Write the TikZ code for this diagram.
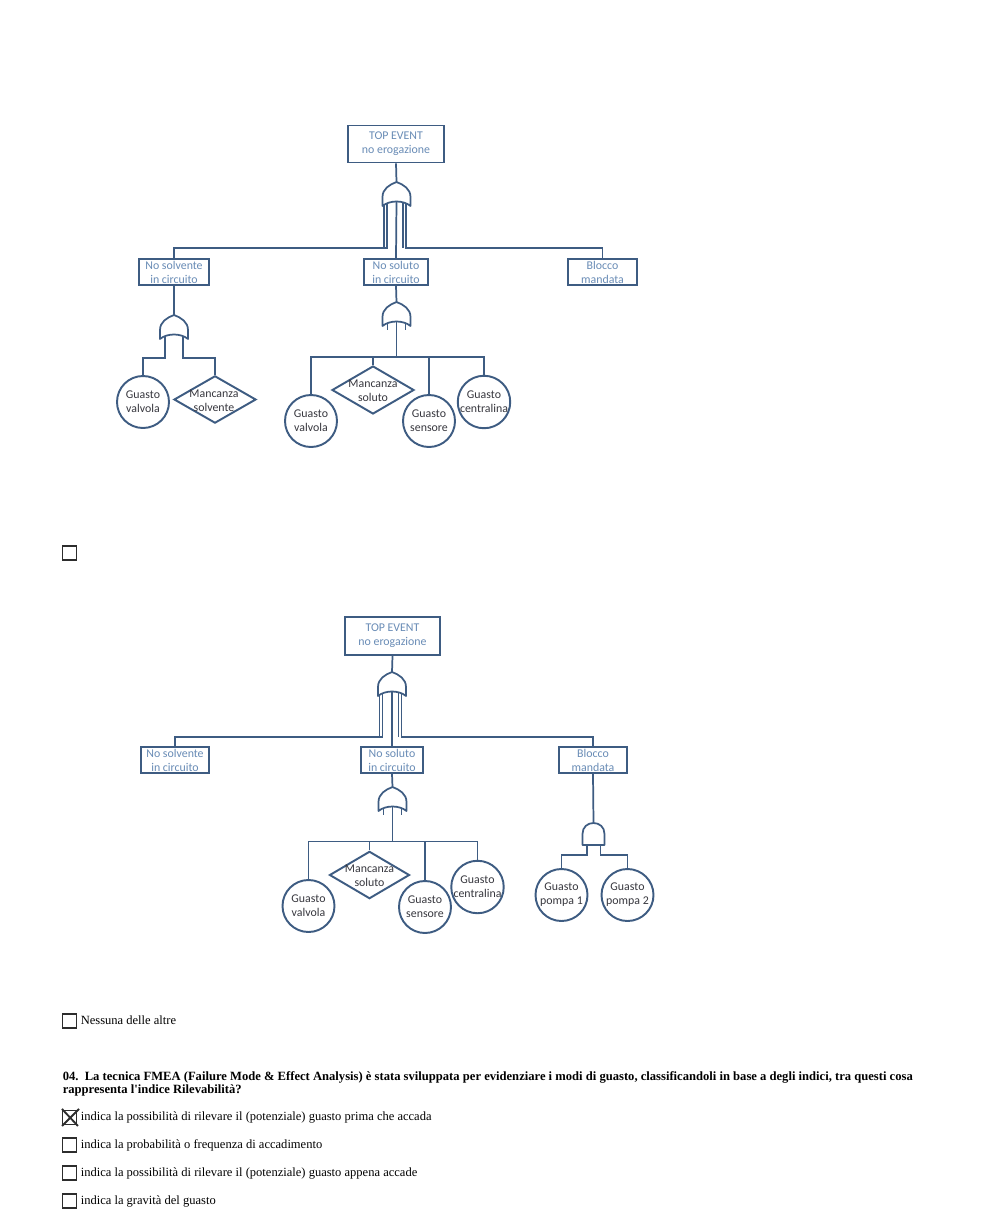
\documentclass[tikz,border=0pt]{standalone}
\usepackage{fontspec}
\setmainfont{Liberation Serif}
\newfontfamily\diag{Carlito}
\usetikzlibrary{shapes.geometric}
\definecolor{lc}{RGB}{62,92,130}
\definecolor{bt}{RGB}{105,140,182}
\definecolor{lt}{RGB}{55,55,62}
\definecolor{cb}{RGB}{45,45,45}
\tikzset{
  dfont/.style={font=\diag\fontsize{8.9}{10.4}\selectfont},
  evbox/.style={draw=lc, line width=1.35pt, text=bt, dfont, align=center, inner sep=0pt},
  leafc/.style={circle, draw=lc, line width=1.45pt, minimum size=39pt, inner sep=0pt, text=lt, dfont, align=center},
  leafd/.style={diamond, draw=lc, line width=1.45pt, inner sep=0pt},
  dtext/.style={text=lt, dfont, align=center, inner sep=0pt},
  conn/.style={draw=lc, line width=1.3pt},
  gateline/.style={draw=lc, line width=1.3pt, fill=white, line join=round},
  cbx/.style={draw=cb, line width=0.8pt, minimum size=10.5pt, inner sep=0pt},
  opt/.style={font=\fontsize{9.4}{11}\selectfont, inner sep=0pt, anchor=base west},
  qst/.style={font=\fontsize{9.45}{11}\selectfont\bfseries, inner sep=0pt, anchor=base west},
  orgate/.pic={
    \draw[gateline] (-14,24) -- (-14,15) .. controls (-14,7) and (-7,2.5) .. (0,0)
      .. controls (7,2.5) and (14,7) .. (14,15) -- (14,24)
      .. controls (7,18) and (-7,18) .. (-14,24) -- cycle;
    \coordinate (-top) at (0,0);
    \coordinate (-out) at (0,19.5);
    \coordinate (-lo) at (-12.5,23);
    \coordinate (-li) at (-9.5,21.5);
    \coordinate (-ri) at (6.5,20.5);
    \coordinate (-ro) at (9.5,21.5);
    \coordinate (-sl) at (-9,21.5);
    \coordinate (-sr) at (9,21.5);
  },
  andgate/.pic={
    \draw[gateline] (-11,22) -- (-11,11) .. controls (-11,4) and (-6,0) .. (0,0)
      .. controls (6,0) and (11,4) .. (11,11) -- (11,22) -- cycle;
    \coordinate (-top) at (0,0);
    \coordinate (-l) at (-6.5,22);
    \coordinate (-r) at (7,22);
  }
}
\begin{document}
\begin{tikzpicture}[x=0.75pt,y=-0.75pt]
\useasboundingbox[fill=white] (0,0) rectangle (1000,1228);

% ================= TOP TREE =================
\node[evbox, minimum width=72pt, minimum height=27.75pt] (T1) at (396,144) {TOP EVENT\\no erogazione};
\pic (g1) at (396.5,182) {orgate};
\node[evbox, minimum width=52.5pt, minimum height=19.5pt] (b1) at (174,272) {No solvente\\in circuito};
\node[evbox, minimum width=48pt, minimum height=19.5pt] (b2) at (396,272) {No soluto\\in circuito};
\node[evbox, minimum width=51.75pt, minimum height=19.5pt] (b3) at (602.5,272) {Blocco\\mandata};
\coordinate (ya) at (0,248);
\draw[conn] (T1.south) -- (g1-top);
\draw[conn] (g1-li) |- (b1.north |- ya) -- (b1.north);
\draw[conn] (g1-lo) -- (g1-lo |- ya);
\draw[conn] (g1-out) -- (b2.north);
\draw[conn] (g1-ro) |- (b3.north |- ya) -- (b3.north);
\draw[conn] (g1-ri) -- (g1-ri |- ya);

% left subtree
\pic (g2) at (174,315) {orgate};
\draw[conn] (b1.south) -- (g2-top);
\node[leafc] (c1) at (143,402) {Guasto\\valvola};
\node[leafd, minimum width=61.5pt, minimum height=35.5pt] (d1) at (215,399.5) {};
\node[dtext] (d1t) at (214,401) {Mancanza\\solvente};
\coordinate (yb) at (0,358);
\draw[conn] (g2-sl) |- (c1.north |- yb) -- (c1.north);
\draw[conn] (g2-sr) |- (d1.north |- yb) -- (d1.north);

% middle subtree
\pic (g3) at (396.5,302) {orgate};
\draw[conn] (b2.south) -- (g3-top);
\draw[conn] (g3-sl) -- ++(0,6.5);
\draw[conn] (g3-sr) -- ++(0,6.5);
\node[leafc] (c2) at (311,421) {Guasto\\valvola};
\node[leafd, minimum width=61.5pt, minimum height=36pt] (d2) at (373,390) {};
\node[dtext] (d2t) at (373,391) {Mancanza\\soluto};
\node[leafc] (c3) at (429,421) {Guasto\\sensore};
\node[leafc] (c4) at (484,402) {Guasto\\centralina};
\coordinate (m3) at (396.5,357);
\draw[conn] (g3-out) -- (m3);
\draw[conn] (m3) -| (c2.north);
\draw[conn] (m3) -| (d2.north);
\draw[conn] (m3) -| (c3.north);
\draw[conn] (m3) -| (c4.north);

% checkbox between trees
\node[cbx] (k0) at (69.5,553) {};

% ================= BOTTOM TREE =================
\node[evbox, minimum width=71.25pt, minimum height=28.5pt] (T2) at (392.5,636) {TOP EVENT\\no erogazione};
\pic (g4) at (392,672) {orgate};
\node[evbox, minimum width=51pt, minimum height=19.5pt] (b4) at (175,760) {No solvente\\in circuito};
\node[evbox, minimum width=46.5pt, minimum height=19.5pt] (b5) at (392,760) {No soluto\\in circuito};
\node[evbox, minimum width=51pt, minimum height=19.5pt] (b6) at (593,760) {Blocco\\mandata};
\coordinate (yc) at (0,737);
\draw[conn] (T2.south) -- (g4-top);
\draw[conn] (g4-li) |- (b4.north |- yc) -- (b4.north);
\draw[conn] (g4-lo) -- (g4-lo |- yc);
\draw[conn] (g4-out) -- (b5.north);
\draw[conn] (g4-ro) |- (b6.north |- yc) -- (b6.north);
\draw[conn] (g4-ri) -- (g4-ri |- yc);

% middle subtree
\pic (g5) at (392.5,787) {orgate};
\draw[conn] (b5.south) -- (g5-top);
\draw[conn] (g5-sl) -- ++(0,6.5);
\draw[conn] (g5-sr) -- ++(0,6.5);
\node[leafc] (c5) at (308.5,906) {Guasto\\valvola};
\node[leafd, minimum width=60pt, minimum height=35.5pt] (d3) at (369.5,875) {};
\node[dtext] (d3t) at (369.5,876) {Mancanza\\soluto};
\node[leafc] (c6) at (425,907) {Guasto\\sensore};
\node[leafc] (c7) at (477.5,887) {Guasto\\centralina};
\coordinate (m5) at (392.5,841.5);
\draw[conn] (g5-out) -- (m5);
\draw[conn] (m5) -| (c5.north);
\draw[conn] (m5) -| (d3.north);
\draw[conn] (m5) -| (c6.north);
\draw[conn] (m5) -| (c7.north);

% right subtree
\pic (g6) at (593.5,823) {andgate};
\draw[conn] (b6.south) -- (g6-top);
\node[leafc] (c8) at (561.5,895) {Guasto\\pompa 1};
\node[leafc] (c9) at (627.5,895) {Guasto\\pompa 2};
\coordinate (yd) at (0,855);
\draw[conn] (g6-l) |- (c8.north |- yd) -- (c8.north);
\draw[conn] (g6-r) |- (c9.north |- yd) -- (c9.north);

% ================= TEXT =================
\node[cbx] (k1) at (69.5,1021) {};
\node[opt] (t1) at (80.5,1024.5) {Nessuna delle altre};

\node[qst] (q1) at (62.5,1080) {04.\enspace La tecnica FMEA (Failure Mode \& Effect Analysis) è stata sviluppata per evidenziare i modi di guasto, classificandoli in base a degli indici, tra questi cosa};
\node[qst] (q2) at (62.5,1093.5) {rappresenta l\textquotesingle indice Rilevabilità?};

\node[cbx] (k2) at (69.5,1117.5) {};
\draw[draw=cb, line width=1.4pt] (k2.north west) ++(0,-1) -- ++(16,17);
\draw[draw=cb, line width=1.4pt] (k2.north east) ++(2,-1) -- ++(-17,17);
\node[opt] (t2) at (80.5,1120) {indica la possibilità di rilevare il (potenziale) guasto prima che accada};
\node[cbx] (k3) at (69.5,1145) {};
\node[opt] (t3) at (80.5,1148) {indica la probabilità o frequenza di accadimento};
\node[cbx] (k4) at (69.5,1173) {};
\node[opt] (t4) at (80.5,1176) {indica la possibilità di rilevare il (potenziale) guasto appena accade};
\node[cbx] (k5) at (69.5,1201) {};
\node[opt] (t5) at (80.5,1204) {indica la gravità del guasto};
\end{tikzpicture}
\end{document}
